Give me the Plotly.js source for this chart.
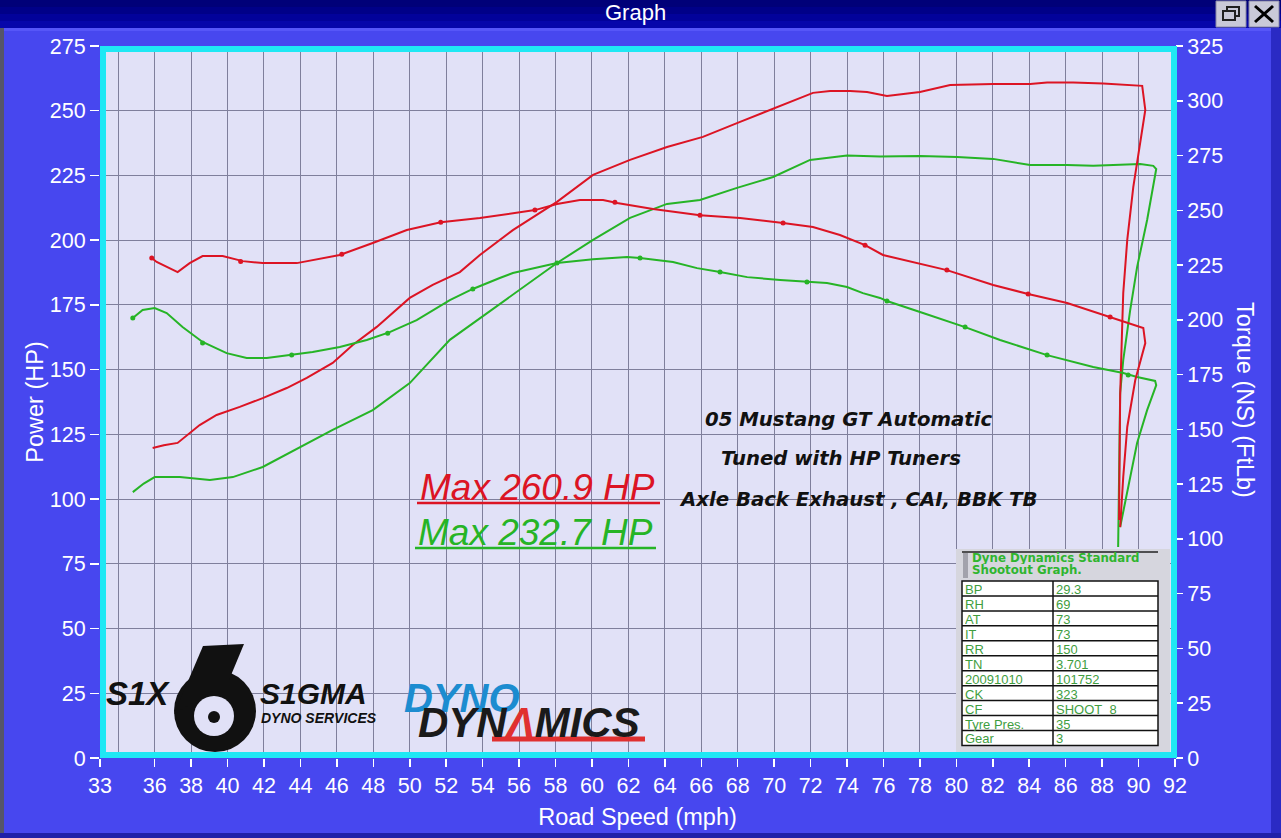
<!DOCTYPE html>
<html><head><meta charset="utf-8">
<script src="https://cdn.plot.ly/plotly-3.0.1.min.js"></script>
<style>html,body{margin:0;padding:0;background:#4747ef;overflow:hidden}#chart{width:1281px;height:838px}</style>
</head><body><div id="chart"></div>
<script>
// ---------- data ----------
// Red run: power (HP, left axis) and torque (ft-lb, right axis)
const redPowerX = [35.89,36.5,37.26,37.92,38.47,39.4,40.67,41.93,43.25,44.35,45.77,46.87,48.19,50.0,51.26,52.75,53.85,55.66,58.08,60.06,62.09,64.12,66.09,68.13,70.16,72.13,73.07,74.17,75.1,76.19,78.0,79.66,82.02,84.05,84.98,86.41,88.06,89.54,90.2,90.37,90.1,89.71,89.38,89.16,89.1,88.99,88.93];
const redPowerY = [119.7,120.8,121.7,125.5,128.6,132.5,135.6,139.0,142.9,146.8,152.6,159.5,166.5,177.7,182.7,187.7,194.3,203.9,214.8,225.2,231.0,236.0,239.9,245.7,251.4,256.9,257.6,257.6,257.2,255.7,257.2,259.9,260.3,260.3,260.9,260.9,260.5,260.0,259.6,250.3,237.5,220.5,200.1,179.6,166.5,140.0,91.9];
const redTorqueX = [35.84,36.11,37.26,37.92,38.63,39.73,40.83,41.93,43.8,46.16,47.97,49.84,51.7,53.85,56.87,58.08,59.34,60.61,61.38,63.35,65.93,68.13,70.49,72.13,73.61,74.99,75.97,78.0,79.48,82.02,83.94,86.08,88.44,90.26,90.37,89.82,89.38,89.16,88.99];
const redTorqueY = [228.2,226.4,221.8,225.9,229.1,229.1,226.8,225.9,225.9,229.6,235.1,241.0,244.5,246.5,250.1,252.9,254.7,254.7,253.3,250.6,247.8,246.5,244.2,242.4,238.7,234.1,229.6,225.5,222.7,215.9,211.8,207.7,201.3,196.3,189.4,172.5,151.1,128.3,105.4];
const redTorqueDotX = [35.84,40.72,46.27,51.7,56.87,61.26,65.93,70.49,74.99,79.48,83.94,88.44];
const redTorqueDotY = [228.2,226.6,229.9,244.6,250.1,253.7,247.8,244.2,234.1,222.7,211.8,201.3];
// Green run
const greenPowerX = [34.8,35.4,36.0,37.38,39.03,40.29,41.93,43.97,45.77,47.97,50.0,52.2,53.85,56.05,58.08,60.06,62.09,64.12,65.93,67.96,69.94,71.97,74.0,75.81,78.0,80.04,82.02,84.05,86.08,87.51,88.83,90.09,90.81,90.97,90.47,89.92,89.54,89.16,88.99,88.88];
const greenPowerY = [102.7,106.0,108.5,108.5,107.4,108.5,112.4,120.1,126.7,134.4,144.8,161.5,169.9,180.8,191.2,200.1,208.6,214.0,215.5,220.2,224.4,231.0,232.7,232.3,232.5,232.1,231.4,229.0,229.0,228.7,229.0,229.4,228.7,227.5,207.8,189.6,173.0,153.7,141.0,81.5];
const greenTorqueX = [34.8,35.34,36.0,36.66,37.53,38.63,39.95,41.05,42.15,43.52,44.67,46.16,47.64,48.9,50.38,52.2,53.46,54.94,55.66,58.08,60.06,61.93,62.64,64.45,65.77,67.03,68.52,70.33,71.8,72.9,74.0,74.87,75.81,76.19,78.17,80.48,82.4,84.98,87.51,89.16,89.92,90.91,90.97,90.47,89.92,89.38,88.99];
const greenTorqueY = [200.8,204.5,205.4,203.1,196.7,189.9,184.8,182.6,182.6,183.9,185.3,187.6,190.8,194.4,199.9,209.0,214.1,219.1,221.4,225.9,227.7,228.7,228.2,226.4,223.6,221.8,219.5,218.2,217.3,216.8,215.0,212.2,210.0,208.6,203.1,196.7,190.8,183.9,178.5,175.7,173.9,172.1,170.2,158.8,143.8,120.9,105.4];
const greenTorqueDotX = [34.8,38.63,43.52,48.79,53.46,58.08,62.64,67.03,71.8,76.19,80.48,84.98,89.43];
const greenTorqueDotY = [200.8,189.4,183.9,193.9,214.1,225.9,228.2,221.8,217.3,208.6,196.7,183.9,174.8];

// axis ticks
const xTickVals = [33,36,38,40,42,44,46,48,50,52,54,56,58,60,62,64,66,68,70,72,74,76,78,80,82,84,86,88,90,92];
const xGridVals = [34,36,38,40,42,44,46,48,50,52,54,56,58,60,62,64,66,68,70,72,74,76,78,80,82,84,86,88,90];

// texts
const noteLines = ["05 Mustang GT Automatic","Tuned with HP Tuners","Axle Back Exhaust , CAI, BBK TB"];
const maxRed = "Max 260.9 HP";
const maxGreen = "Max 232.7 HP";
const tableHeader = ["Dyne Dynamics Standard","Shootout Graph."];
const tableKeys = ["BP","RH","AT","IT","RR","TN","20091010","CK","CF","Tyre Pres.","Gear"];
const tableVals = ["29.3","69","73","73","150","3.701","101752","323","SHOOT_8","35","3"];

// ---------- layout helpers (pixel -> paper) ----------
const L = 100, T = 46, PW = 1075, PH = 712;
const X = px => (px - L) / PW;
const Y = py => (T + PH - py) / PH;
const RED = '#dc1424', GREEN = '#26b426', FONT = 'Liberation Sans, Arial, sans-serif', PLOTBG = '#e1e1f7';

const traces = [
  {x: greenPowerX, y: greenPowerY, mode: 'lines', line: {color: GREEN, width: 2}, yaxis: 'y'},
  {x: redPowerX, y: redPowerY, mode: 'lines', line: {color: RED, width: 2}, yaxis: 'y'},
  {x: greenTorqueX, y: greenTorqueY, mode: 'lines', line: {color: GREEN, width: 2}, yaxis: 'y2'},
  {x: redTorqueX, y: redTorqueY, mode: 'lines', line: {color: RED, width: 2}, yaxis: 'y2'},
  {x: greenTorqueDotX, y: greenTorqueDotY, mode: 'markers', marker: {color: GREEN, size: 5}, yaxis: 'y2'},
  {x: redTorqueDotX, y: redTorqueDotY, mode: 'markers', marker: {color: RED, size: 5}, yaxis: 'y2'}
];

const shapes = [];
const ann = [];
function rect(x0,y0,x1,y1,fill,line,lw){shapes.push({type:'rect',xref:'paper',yref:'paper',x0:X(x0),x1:X(x1),y0:Y(y1),y1:Y(y0),fillcolor:fill,line:{color:line||fill,width:lw===undefined?0:lw},layer:'above'});}
function seg(x0,y0,x1,y1,color,w){shapes.push({type:'line',xref:'paper',yref:'paper',x0:X(x0),x1:X(x1),y0:Y(y0),y1:Y(y1),line:{color:color,width:w},layer:'above'});}
function circ(cx,cy,r,fill){shapes.push({type:'circle',xref:'paper',yref:'paper',x0:X(cx-r),x1:X(cx+r),y0:Y(cy+r),y1:Y(cy-r),fillcolor:fill,line:{width:0},layer:'above'});}
function poly(pts,fill){shapes.push({type:'path',xref:'paper',yref:'paper',path:'M'+pts.map(p=>X(p[0])+','+Y(p[1])).join(' L')+' Z',fillcolor:fill,line:{width:0},layer:'above'});}
function txt(t,x,y,o){ann.push(Object.assign({text:t,xref:'paper',yref:'paper',x:X(x),y:Y(y),showarrow:false,xanchor:'left',yanchor:'middle',font:{family:FONT,size:14,color:'#fff'}},o||{}));}

// window chrome
rect(0,0,1281,7,'#000078'); rect(0,7,1281,14,'#000088'); rect(0,14,1281,21,'#02029a'); rect(0,21,1281,28,'#0606aa');
rect(0,28,1281,31,'#5656f8');
rect(0,28,4,838,'#55556a'); rect(1271,28,1281,838,'#2a2ac4'); rect(0,833,1281,838,'#2020a8');
rect(1216,1,1246,27,'#c9c9d8','#8a8aa6',1); rect(1249,1,1279,27,'#c9c9d8','#8a8aa6',1);
rect(1227,7,1239,16,'rgba(0,0,0,0)','#202020',2); rect(1223,11,1235,20,'#c9c9d8','#202020',2);
seg(1255,6,1273,22,'#000',3); seg(1255,22,1273,6,'#000',3);
txt('Graph',635,13,{xanchor:'center',font:{family:FONT,size:22,color:'#fff'}});

// right axis title
txt('Torque (NS) (FtLb)',1245,400,{xanchor:'center',textangle:90,font:{family:FONT,size:23.5,color:'#fff'}});

// notes
const noteY = [419,458,499], noteXc = [848,841,858];
noteLines.forEach((s,i)=>txt('<b><i>'+s+'</i></b>',noteXc[i],noteY[i],{xanchor:'center',font:{family:'DejaVu Sans, Verdana, sans-serif',size:19.7,color:'#111'}}));
txt('<i>'+maxRed+'</i>',418,487,{font:{family:FONT,size:37,color:RED}});
seg(417,503,660,503,RED,2.5);
txt('<i>'+maxGreen+'</i>',416,532,{font:{family:FONT,size:37,color:GREEN}});
seg(415,548,656,548,GREEN,2.5);

// logos (Six Sigma mark drawn as graphic)
circ(215,711,41,'#111');
poly([[174,714],[203,646],[244,644],[229,680],[214,690]],'#111');
circ(214,716,20,PLOTBG);
circ(214,717,6,'#111');
txt('<b><i>S1X</i></b>',104,693,{font:{family:FONT,size:33,color:'#111'}});
txt('<b><i>S1GMA</i></b>',258,693,{font:{family:FONT,size:30,color:'#111'}});
txt('<b><i>DYNO SERVICES</i></b>',259,718,{font:{family:FONT,size:14,color:'#111'}});
txt('<b><i>DYNO</i></b>',402,698,{font:{family:FONT,size:40,color:'#1c8cd0'}});
seg(492,739,645,739,'#e03030',5);
txt('<b><i>DYN<span style="color:#e03030">Λ</span>MICS</i></b>',416,722,{font:{family:FONT,size:42,color:'#1a1a1a'}});

// info table
rect(956,549,1170,753,'#d6d6de');
seg(962,552,1158,552,'#222',1.5);
rect(963,553,968,578,'#a2a2ac');
txt('<b>'+tableHeader[0]+'</b>',970,558,{height:12,font:{family:'DejaVu Sans, Verdana, sans-serif',size:11.8,color:'#2fb52f'}});
txt('<b>'+tableHeader[1]+'</b>',970,570,{height:12,font:{family:'DejaVu Sans, Verdana, sans-serif',size:11.8,color:'#2fb52f'}});
const tTop = 581, rowH = 14.95, cL = 962, cM = 1053, cR = 1158;
rect(cL,tTop,cR,tTop+rowH*tableKeys.length,'#ffffff','#111',1.5);
for(let i=1;i<tableKeys.length;i++) seg(cL,tTop+i*rowH,cR,tTop+i*rowH,'#111',1.5);
seg(cM,tTop,cM,tTop+rowH*tableKeys.length,'#111',1.5);
tableKeys.forEach((k,i)=>{
  txt(k,cL+1,tTop+rowH*(i+0.5)+0.5,{height:14,font:{family:FONT,size:13,color:'#3f9e3f'}});
  txt(tableVals[i],cM+1,tTop+rowH*(i+0.5)+0.5,{height:14,font:{family:FONT,size:13,color:'#3f9e3f'}});
});

// cyan frame
shapes.push({type:'rect',xref:'paper',yref:'paper',x0:X(103),x1:X(1174),y0:Y(755),y1:Y(49),fillcolor:'rgba(0,0,0,0)',line:{color:'#1fe8f4',width:6},layer:'above'});

const tickFont = {family: FONT, size: 21.5, color: '#ffffff'};
const layout = {
  width: 1281, height: 838,
  margin: {l: L, r: 1281 - L - PW, t: T, b: 838 - T - PH},
  paper_bgcolor: '#4747ef', plot_bgcolor: PLOTBG,
  showlegend: false,
  font: {family: FONT, color: '#fff'},
  xaxis: {range: [33, 92], tickmode: 'array', tickvals: xTickVals, ticks: 'outside', ticklen: 8, tickwidth: 1.5, tickcolor: '#fff',
          showgrid: true, gridcolor: '#7f7f9c', gridwidth: 1, zeroline: false, showline: false, tickfont: tickFont,
          minor: {tickmode: 'array', tickvals: xGridVals, showgrid: true, gridcolor: '#7f7f9c', gridwidth: 1, ticks: ''},
          title: {text: 'Road Speed (mph)', font: {family: FONT, size: 23.5, color: '#fff'}, standoff: 11}},
  yaxis: {range: [0, 275], dtick: 25, tick0: 0, ticks: 'outside', ticklen: 9, tickwidth: 1.5, tickcolor: '#fff',
          showgrid: true, gridcolor: '#7f7f9c', gridwidth: 1, zeroline: false, showline: false, tickfont: tickFont,
          title: {text: 'Power (HP)', font: {family: FONT, size: 23.5, color: '#fff'}}},
  yaxis2: {range: [0, 325], dtick: 25, tick0: 0, overlaying: 'y', side: 'right', ticks: 'outside', ticklen: 7, tickwidth: 1.5, tickcolor: '#fff',
           showgrid: false, zeroline: false, showline: false, tickfont: tickFont},
  shapes: shapes, annotations: ann
};
Plotly.newPlot('chart', traces, layout, {staticPlot: true, displayModeBar: false});
</script>
</body></html>
